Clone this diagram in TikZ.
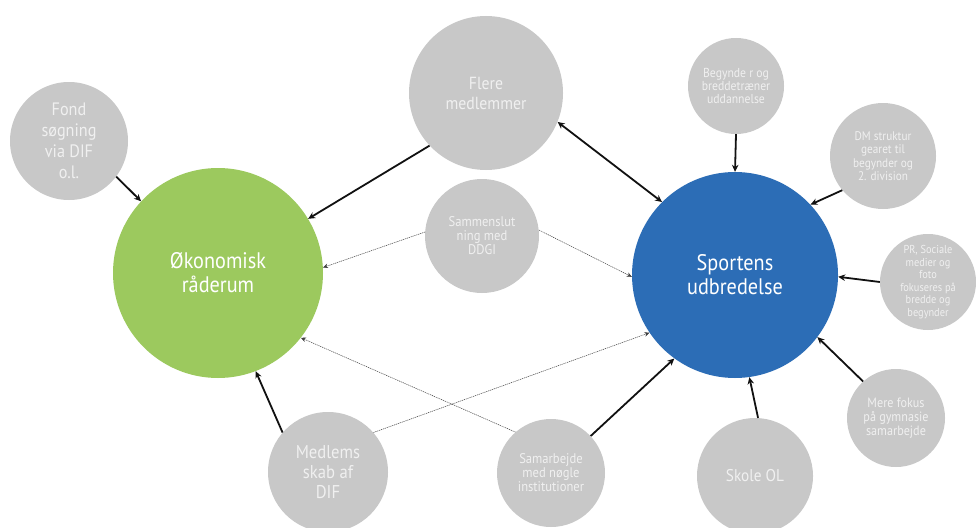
\documentclass[tikz,border=0pt]{standalone}
\usepackage{fontspec}
\setmainfont{PT Sans}[FakeStretch=0.9]
\usetikzlibrary{arrows.meta}
\definecolor{cgrey}{HTML}{C8C8C8}
\definecolor{cgreen}{HTML}{9CC95E}
\definecolor{cblue}{HTML}{2C6DB6}
\definecolor{ctext}{HTML}{F0F0F0}
\definecolor{cline}{HTML}{111111}
\begin{document}
\begin{tikzpicture}[x=1pt,y=-1pt,
  bub/.style={circle,fill=cgrey,inner sep=0pt,text=ctext,align=center},
  big/.style={circle,inner sep=0pt,text=white,align=center,font=\fontsize{22.5}{24}\selectfont},
  link/.style={draw=cline,line width=1.8pt,-{Stealth[length=7pt,width=6.5pt]}},
  blink/.style={draw=cline,line width=1.8pt,{Stealth[length=7pt,width=6.5pt]}-{Stealth[length=7pt,width=6.5pt]}},
  weak/.style={draw=cline!80,line width=0.5pt,dash pattern=on 1.2pt off 0.8pt,-{Stealth[length=5pt,width=4.5pt]}}]
\useasboundingbox (0,0) rectangle (976,527);
\fill[white] (0,0) rectangle (976,527);
% main circles
\node[big,fill=cgreen,minimum size=210pt] (green) at (218,273) {Økonomisk\\råderum};
\node[big,fill=cblue,minimum size=206pt] (blue) at (735,275) {Sportens\\udbredelse};
% satellites
\node[bub,minimum size=118pt,font=\fontsize{18}{21}\selectfont] (fond) at (69,141) {Fond\\søgning\\via DIF\\o.l.};
\node[bub,minimum size=154pt,font=\fontsize{17.5}{20}\selectfont] (flere) at (486,93) {Flere\\medlemmer};
\node[bub,minimum size=96pt,font=\fontsize{13}{13}\selectfont] (begynd) at (736,86) {Begynde r og\\breddetræner\\uddannelse};
\node[bub,minimum size=106pt,font=\fontsize{12.5}{13.5}\selectfont] (dm) at (883,156) {DM struktur\\gearet til\\begynder og\\2. division};
\node[bub,minimum size=96pt,font=\fontsize{11.5}{12.5}\selectfont] (pr) at (928,282) {PR, Sociale\\medier og\\foto\\fokuseres på\\bredde og\\begynder};
\node[bub,minimum size=98pt,font=\fontsize{13.5}{14}\selectfont] (mere) at (896,418) {Mere fokus\\på gymnasie\\samarbejde};
\node[bub,minimum size=114pt,font=\fontsize{14}{14}\selectfont] (sammen) at (482,236) {Sammenslut\\ning med\\DDGI};
\node[bub,minimum size=120pt,font=\fontsize{18.5}{20}\selectfont] (medl) at (328,472) {Medlems\\skab af\\DIF};
\node[bub,minimum size=108pt,font=\fontsize{14}{14}\selectfont] (samar) at (551,473) {Samarbejde\\med nøgle\\institutioner};
\node[bub,minimum size=116pt,font=\fontsize{17}{17}\selectfont] (skole) at (755,476) {Skole OL};
% solid connectors
\draw[link] (fond.-37) -- (green.137);
\draw[link] (flere.223) -- (green.31);
\draw[blink] (flere.-22) -- (blue.135);
\draw[link] (begynd.-90) -- (blue.90);
\draw[link] (dm.220) -- (blue.43);
\draw[link] (pr.180) -- (blue.-1);
\draw[link] (mere.132) -- (blue.-37);
\draw[link] (skole.87) -- (blue.-82);
\draw[link] (samar.43) -- (blue.-126);
\draw[link] (medl.139) -- (green.-69);
% weak connectors
\draw[weak] (sammen.176) -- (green.3);
\draw[weak] (sammen.6) -- (blue.181);
\draw[weak] (samar.131) -- (green.-38);
\draw[weak] (medl.41) -- (blue.214);
\end{tikzpicture}
\end{document}
